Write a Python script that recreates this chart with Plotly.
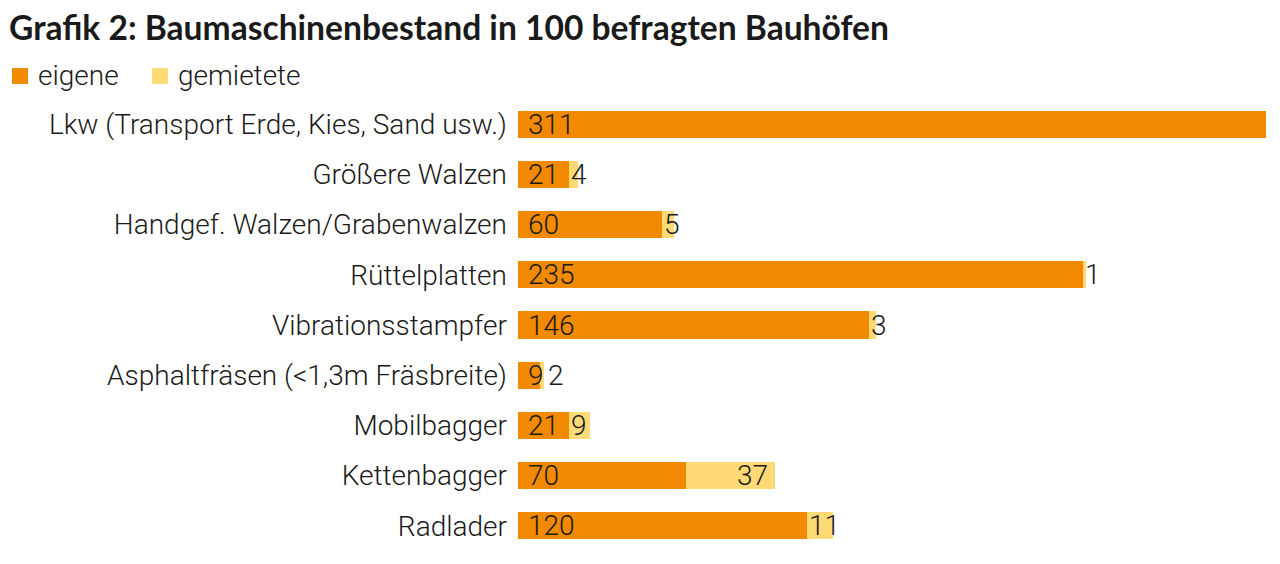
import plotly.graph_objects as go

categories = [
    "Lkw (Transport Erde, Kies, Sand usw.)",
    "Größere Walzen",
    "Handgef. Walzen/Grabenwalzen",
    "Rüttelplatten",
    "Vibrationsstampfer",
    "Asphaltfräsen (<1,3m Fräsbreite)",
    "Mobilbagger",
    "Kettenbagger",
    "Radlader",
]
eigene = [311, 21, 60, 235, 146, 9, 21, 70, 120]
gemietete = [0, 4, 5, 1, 3, 2, 9, 37, 11]
series_names = ["eigene", "gemietete"]

ORANGE = "#F18A00"
YELLOW = "#FFDA75"
TEXT = "#1a1a1a"
LABEL_FONT = dict(family="Roboto", size=28, color=TEXT, weight=300)

# page body adds an 8px offset; layout is expressed in figure pixels
OFF = 8
W, H = 1280, 564
L, R, T, B = 518 - OFF, 14 + OFF, 99 - OFF, 13 + OFF
plot_w = W - L - R
plot_h = H - T - B
xmax = max(e + g for e, g in zip(eigene, gemietete))
px_per_unit = plot_w / xmax

fig = go.Figure()
fig.add_trace(go.Bar(y=categories, x=eigene, name=series_names[0], orientation="h",
                     marker=dict(color=ORANGE, line=dict(width=0)), hoverinfo="skip"))
fig.add_trace(go.Bar(y=categories, x=gemietete, name=series_names[1], orientation="h",
                     marker=dict(color=YELLOW, line=dict(width=0)), hoverinfo="skip"))

annotations = []
digit_w = 0.55 * LABEL_FONT["size"]
for cat, e, g in zip(categories, eigene, gemietete):
    annotations.append(dict(x=0, y=cat, xref="x", yref="y", text=str(e), showarrow=False,
                            xanchor="left", xshift=8, font=LABEL_FONT))
    if g > 0:
        if g * px_per_unit > 2 * digit_w + 10:
            annotations.append(dict(x=e + g, y=cat, xref="x", yref="y", text=str(g), showarrow=False,
                                    xanchor="right", xshift=-5, font=LABEL_FONT))
        else:
            prev_end = 8 + len(str(e)) * digit_w
            seg_start = e * px_per_unit
            shift = max(0, prev_end + 5 - seg_start)
            annotations.append(dict(x=e, y=cat, xref="x", yref="y", text=str(g), showarrow=False,
                                    xanchor="left", xshift=shift, font=LABEL_FONT))

# manual legend (square swatches + labels), positioned in figure pixels
legend_items = [(series_names[0], ORANGE, 12 - OFF), (series_names[1], YELLOW, 152 - OFF)]
sq_top, sq_bot = 68 - OFF, 84 - OFF
shapes = []
for name, col, x0 in legend_items:
    shapes.append(dict(type="rect", xref="paper", yref="paper",
                       x0=(x0 - L) / plot_w, x1=(x0 + 16 - L) / plot_w,
                       y0=1 + (T - sq_bot) / plot_h, y1=1 + (T - sq_top) / plot_h,
                       fillcolor=col, line=dict(width=0)))
    annotations.append(dict(xref="paper", yref="paper", x=(x0 + 24 - L) / plot_w,
                            y=1 + (T - (sq_top + sq_bot) / 2) / plot_h, text=name, showarrow=False,
                            xanchor="left", yanchor="middle",
                            font=dict(family="Roboto", size=28, color=TEXT, weight=300)))

fig.update_layout(
    barmode="stack",
    bargap=0.46,
    width=W, height=H,
    margin=dict(l=L, r=R, t=T, b=B, autoexpand=False),
    paper_bgcolor="white", plot_bgcolor="white",
    title=dict(text="Grafik 2: Baumaschinenbestand in 100 befragten Bauhöfen",
               x=1 / W, xanchor="left", y=1 - 20 / H, yanchor="middle",
               font=dict(family="Lato", size=33.6, color=TEXT, weight="bold")),
    showlegend=False,
    xaxis=dict(range=[0, xmax], visible=False, fixedrange=True),
    yaxis=dict(autorange="reversed", showgrid=False, zeroline=False, showline=False,
               ticks="", ticklabelstandoff=10, tickfont=LABEL_FONT),
    annotations=annotations,
    shapes=shapes,
)

fig.write_html("out.html")
